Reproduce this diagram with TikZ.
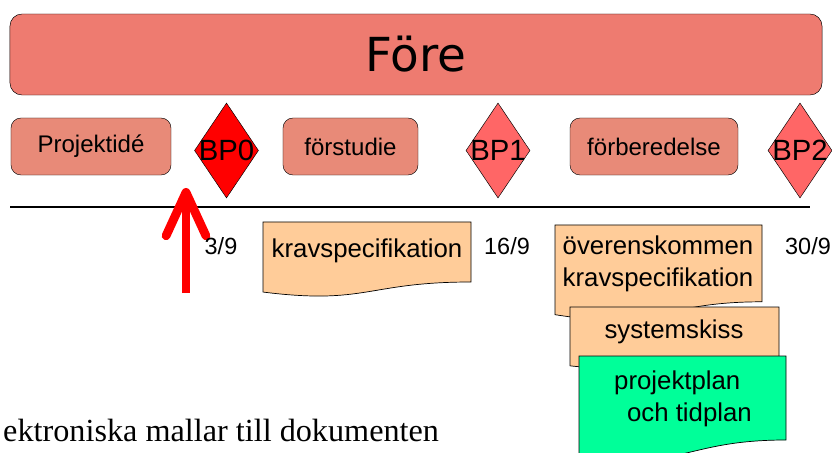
\documentclass[tikz,border=0pt]{standalone}
\usepackage{fontspec}
\setmainfont{Liberation Sans}
\newfontfamily\forefont{DejaVu Sans}
\newfontfamily\mallfont{Liberation Serif}
\usetikzlibrary{shapes.geometric,arrows.meta}
\definecolor{forered}{RGB}{238,123,112}
\definecolor{phasered}{RGB}{232,138,120}
\definecolor{bpred}{RGB}{255,0,0}
\definecolor{bplight}{RGB}{255,102,102}
\definecolor{docorange}{RGB}{255,204,153}
\definecolor{docgreen}{RGB}{0,255,153}
\tikzset{
  forebar/.style={draw, fill=forered, rounded corners=0.36cm, minimum width=24.36cm, minimum height=2.43cm, font=\forefont\fontsize{40}{48}\selectfont},
  phase/.style={draw, fill=phasered, rounded corners=0.3cm, minimum height=1.71cm, inner sep=0pt, font=\fontsize{20.5}{24}\selectfont},
  bp/.style={diamond, draw, inner sep=0pt, minimum width=1.92cm, minimum height=2.85cm},
  bptext/.style={font=\fontsize{25}{30}\selectfont, inner sep=0pt},
  datum/.style={font=\fontsize{20}{24}\selectfont},
  doctext/.style={font=\fontsize{22}{27}\selectfont, align=center, inner sep=0pt},
}
% document symbol with a wavy bottom: x, y, width, height, colour
\newcommand{\docshape}[5]{%
  \filldraw[fill=#5, draw=black, line width=0.6pt] (#1,#2) -- ({#1+#3},#2) -- ({#1+#3},{#2+0.8*#4})
    .. controls ({#1+0.5*#3},{#2+0.8*#4}) and ({#1+0.5*#3},{#2+1.108*#4}) .. (#1,{#2+0.934*#4}) -- cycle;}
\begin{document}
\begin{tikzpicture}[x=0.03cm, y=-0.03cm]
  \useasboundingbox (0,0) rectangle (832,453);
  \clip (0,0) rectangle (832,453);
  \node[forebar] (fore) at (416,54.5) {Före};
  % phases and beslutspunkter
  \node[phase, minimum width=4.8cm] (ide) at (91,146.5) {Projektidé};
  \node[phase, minimum width=4.05cm] (forstudie) at (350.5,146.5) {förstudie};
  \node[phase, minimum width=5.04cm] (forberedelse) at (654,146.5) {förberedelse};
  \node[bp, fill=bpred] (bp0) at (226.5,150.5) {};
  \node[bp, fill=bplight] (bp1) at (498,150.5) {};
  \node[bp, fill=bplight] (bp2) at (800,150.5) {};
  \node[bptext] (bp0text) at (bp0) {BP0};
  \node[bptext] (bp1text) at (bp1) {BP1};
  \node[bptext] (bp2text) at (bp2) {BP2};
  % time line
  \coordinate (tlstart) at (10,207);
  \coordinate (tlend) at (810,207);
  \draw[line width=2.5pt] (tlstart) -- (tlend);
  \coordinate (nowtail) at (186,293);
  \coordinate (nowtip) at (186,188);
  \draw[bpred, line width=7.5pt, -{Straight Barb[length=37pt, width=34pt, round]}] (nowtail) -- (nowtip);
  \node[datum] (d0) at (221,246) {3/9};
  \node[datum] (d1) at (507,246) {16/9};
  \node[datum] (d2) at (808,246) {30/9};
  % documents
  \docshape{263}{222}{208}{75}{docorange}
  \node[doctext] (krav) at (367,251) {kravspecifikation};
  \docshape{555}{225}{207}{96}{docorange}
  \node[doctext] (overens) at (658,264) {överenskommen\\kravspecifikation};
  \docshape{570}{307}{209}{63}{docorange}
  \node[doctext] (skiss) at (674,332) {systemskiss};
  \docshape{579}{356}{207}{105}{docgreen}
  \node[doctext, align=left, anchor=west] (plan) at (614,399) {projektplan\\\hspace*{11pt}och tidplan};
  \node[font=\mallfont\fontsize{27.5}{32}\selectfont, anchor=base west, inner sep=0pt] (mallar) at (3,441) {ektroniska mallar till dokumenten};
\end{tikzpicture}
\end{document}
